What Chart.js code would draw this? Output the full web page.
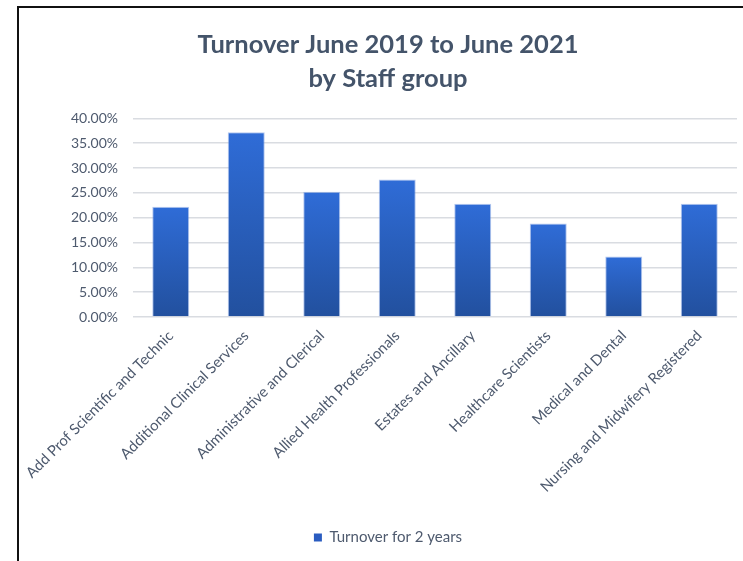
<!DOCTYPE html>
<html>
<head>
<meta charset="utf-8">
<script src="https://cdn.jsdelivr.net/npm/chart.js@4.4.1/dist/chart.umd.min.js"></script>
<style>
  html, body { margin: 0; padding: 0; background: #ffffff; }
  #wrap { position: relative; width: 743px; height: 561px; overflow: hidden; }
  #frame { position: absolute; left: 17px; top: 6px; width: 800px; height: 600px;
           border-left: 2px solid #111; border-top: 2px solid #111; box-sizing: border-box; }
  #chart { position: absolute; left: 0; top: 0; }
</style>
</head>
<body>
<div id="wrap">
  <div id="frame"></div>
  <canvas id="chart" width="743" height="561"></canvas>
</div>
<script>
// Staff groups and their two-year turnover (%)
const categories = [
  'Add Prof Scientific and Technic',
  'Additional Clinical Services',
  'Administrative and Clerical',
  'Allied Health Professionals',
  'Estates and Ancillary',
  'Healthcare Scientists',
  'Medical and Dental',
  'Nursing and Midwifery Registered'
];
const turnoverPct = [22.2, 37.2, 25.2, 27.7, 22.8, 18.8, 12.2, 22.8];
const seriesLabel = 'Turnover for 2 years';
const titleLines = ['Turnover June 2019 to June 2021', 'by Staff group'];
const yMax = 40;
const yStep = 5;

const textColor = '#4E5A6E';
const titleColor = '#44546A';
const barTop = '#2F6CD7';
const barBottom = '#22509E';

// Vertical gradient per bar, light at the top and darker at the base
function barFill(ctx) {
  const chart = ctx.chart;
  if (!chart.chartArea || ctx.type !== 'data') return barTop;
  const ys = chart.scales.y;
  const top = ys.getPixelForValue(ctx.parsed.y);
  const base = ys.getPixelForValue(0);
  const g = chart.ctx.createLinearGradient(0, top, 0, base);
  g.addColorStop(0, barTop);
  g.addColorStop(1, barBottom);
  return g;
}

new Chart(document.getElementById('chart'), {
  type: 'bar',
  data: {
    labels: categories,
    datasets: [{
      label: seriesLabel,
      data: turnoverPct,
      backgroundColor: barFill,
      borderColor: 'rgba(120,155,225,0.55)',
      borderWidth: 1,
      borderSkipped: 'bottom',
      categoryPercentage: 1.0,
      barPercentage: 0.49
    }]
  },
  options: {
    responsive: false,
    animation: false,
    layout: { padding: { left: 39, right: 6, top: 0, bottom: 6 } },
    plugins: {
      title: {
        display: true,
        text: titleLines,
        color: titleColor,
        font: { family: 'Lato', size: 25.5, weight: 'bold', lineHeight: 1.32 },
        padding: { top: 28, bottom: 23 }
      },
      legend: {
        display: true,
        position: 'bottom',
        labels: {
          color: textColor,
          font: { family: 'Lato', size: 15 },
          boxWidth: 8,
          boxHeight: 8,
          padding: 10,
          generateLabels: (chart) => chart.data.datasets.map((ds, i) => ({
            text: ds.label,
            fillStyle: '#2A5CC0',
            strokeStyle: '#2A5CC0',
            lineWidth: 0,
            fontColor: textColor,
            datasetIndex: i
          }))
        }
      },
      tooltip: { enabled: false }
    },
    scales: {
      x: {
        grid: { display: false },
        border: { display: false },
        ticks: {
          color: textColor,
          font: { family: 'Lato', size: 14.8 },
          minRotation: 45,
          maxRotation: 45,
          padding: 2,
          autoSkip: false
        },
        afterFit: (scale) => { scale.height = 203; }
      },
      y: {
        min: 0,
        max: yMax,
        grid: { color: '#D9DCE1', lineWidth: 1.5, drawTicks: false },
        border: { display: false },
        ticks: {
          stepSize: yStep,
          color: textColor,
          font: { family: 'Lato', size: 14 },
          padding: 15,
          callback: (v) => Number(v).toFixed(2) + '%'
        },
        afterFit: (scale) => { scale.width = 94; }
      }
    }
  }
});
</script>
</body>
</html>
